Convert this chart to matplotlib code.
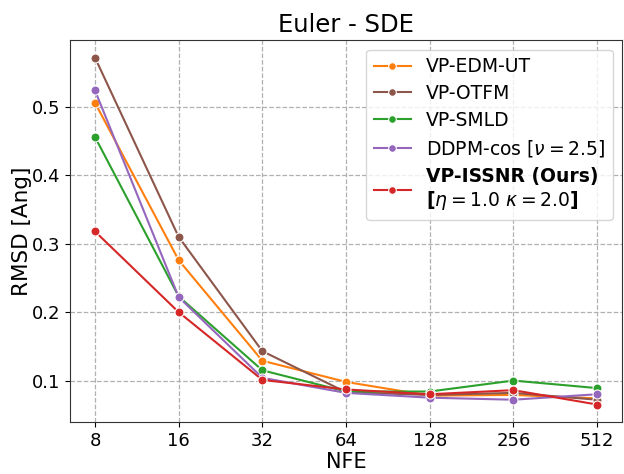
import matplotlib
matplotlib.use("Agg")
import matplotlib.pyplot as plt
from matplotlib.ticker import FixedLocator, NullLocator

nfe = [8, 16, 32, 64, 128, 256, 512]

vp_edm_ut = [0.506, 0.276, 0.129, 0.098, 0.078, 0.079, 0.074]
vp_otfm = [0.572, 0.310, 0.143, 0.083, 0.079, 0.082, 0.072]
vp_smld = [0.456, 0.223, 0.115, 0.084, 0.084, 0.100, 0.089]
ddpm_cos = [0.524, 0.222, 0.104, 0.082, 0.075, 0.072, 0.080]
vp_issnr = [0.318, 0.200, 0.101, 0.087, 0.080, 0.086, 0.065]

series = [
    ("VP-EDM-UT", vp_edm_ut, "#ff7f0e"),
    ("VP-OTFM", vp_otfm, "#8c564b"),
    ("VP-SMLD", vp_smld, "#2ca02c"),
    (r"DDPM-cos [$\nu = 2.5$]", ddpm_cos, "#9467bd"),
    ("VP-ISSNR (Ours)\n" + r"[$\eta = 1.0\ \kappa = 2.0$]", vp_issnr, "#d62728"),
]

fig, ax = plt.subplots(figsize=(6.24, 4.74), dpi=100)

for label, vals, color in series:
    ax.plot(nfe, vals, color=color, lw=1.5, marker="o", ms=6.5,
            markeredgecolor="white", markeredgewidth=0.8, label=label)

ax.set_xscale("log", base=2)
ax.xaxis.set_major_locator(FixedLocator(nfe))
ax.xaxis.set_minor_locator(NullLocator())
ax.set_xticklabels([str(n) for n in nfe])
ax.set_yticks([0.1, 0.2, 0.3, 0.4, 0.5])
ax.tick_params(axis="both", labelsize=13)
ax.grid(True, linestyle="--", color="#b0b0b0", lw=0.9)

for sp in ax.spines.values():
    sp.set_color("#333333")

ax.set_title("Euler - SDE", fontsize=17.5)
ax.set_xlabel("NFE", fontsize=15, labelpad=2)
ax.set_ylabel("RMSD [Ang]", fontsize=15.5, labelpad=0)

leg = ax.legend(fontsize=13.5, loc="upper right", labelspacing=0.42,
                handletextpad=0.8, markerscale=0.85)
for t in leg.get_texts():
    if t.get_text().startswith("VP-ISSNR"):
        t.set_fontweight("bold")

fig.subplots_adjust(left=0.112, right=0.997, top=0.915, bottom=0.11)
fig.savefig("out.png", dpi=100)
